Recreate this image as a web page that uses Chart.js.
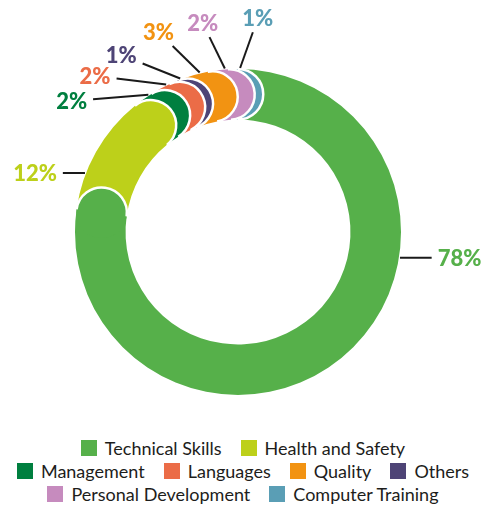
<!DOCTYPE html>
<html>
<head>
<meta charset="utf-8">
<script src="https://cdn.jsdelivr.net/npm/chart.js@4.4.1/dist/chart.umd.min.js"></script>
<style>
  body { margin: 0; background: #fff; font-family: Lato, sans-serif; }
  #wrap { position: relative; width: 486px; height: 437px; }
  #legend { display: flex; flex-wrap: wrap; justify-content: center; width: 460px; margin: 0 auto; column-gap: 19px; }
  .item { display: flex; align-items: center; height: 22.7px; font-size: 18px; color: #1d1d1b; white-space: nowrap; }
  .box { width: 16px; height: 16px; margin-right: 8px; }
</style>
</head>
<body>
<div id="wrap"><canvas id="trainingChart"></canvas></div>
<div id="legend"></div>
<script>
// ring order, clockwise from 12 o'clock
const categories = ['Technical Skills', 'Health and Safety', 'Management', 'Languages', 'Others', 'Quality', 'Personal Development', 'Computer Training'];
const shares = [78, 12, 2, 2, 1, 3, 2, 1];
const colors = ['#56B04A', '#BDD01A', '#007F3F', '#EB6C47', '#4E4476', '#F29312', '#C68BBE', '#5A9EB5'];
const legendOrder = ['Technical Skills', 'Health and Safety', 'Management', 'Languages', 'Quality', 'Others', 'Personal Development', 'Computer Training'];

// percentage labels: degrees clockwise from 12 o'clock, distance as multiple of the outer radius
const labelAngles = [96.6, 286.2, 308.2, 317.5, 326.6, 338.3, 350.4, 5.3];
const labelDist = [1.368, 1.297, 1.299, 1.298, 1.302, 1.321, 1.30, 1.317];

const LABEL_FONT = '900 22px Lato';

// arc with a round cap sticking out past its end
function segmentPath(ctx, a) {
  const rm = (a.innerRadius + a.outerRadius) / 2;
  const rc = (a.outerRadius - a.innerRadius) / 2;
  const cx = a.x + rm * Math.cos(a.endAngle);
  const cy = a.y + rm * Math.sin(a.endAngle);
  ctx.beginPath();
  ctx.arc(a.x, a.y, a.outerRadius, a.startAngle, a.endAngle);
  ctx.arc(cx, cy, rc, a.endAngle, a.endAngle + Math.PI);
  ctx.arc(a.x, a.y, a.innerRadius, a.endAngle, a.startAngle, true);
  ctx.closePath();
  return { cx, cy, rc };
}

function capOutline(ctx, a, cap) {
  ctx.beginPath();
  ctx.arc(cap.cx, cap.cy, cap.rc, a.endAngle, a.endAngle + Math.PI);
  ctx.strokeStyle = '#fff';
  ctx.lineWidth = 2.5;
  ctx.stroke();
}

function drawSegment(ctx, a, color) {
  const cap = segmentPath(ctx, a);
  ctx.fillStyle = color;
  ctx.fill();
  capOutline(ctx, a, cap);
}

function drawCapOnly(ctx, a, color) {
  const rm = (a.innerRadius + a.outerRadius) / 2;
  const rc = (a.outerRadius - a.innerRadius) / 2;
  const cap = { cx: a.x + rm * Math.cos(a.endAngle), cy: a.y + rm * Math.sin(a.endAngle), rc };
  ctx.beginPath();
  ctx.arc(cap.cx, cap.cy, rc, a.endAngle - Math.PI, a.endAngle + Math.PI);
  ctx.fillStyle = color;
  ctx.fill();
  capOutline(ctx, a, cap);
}

const roundedRing = {
  id: 'roundedRing',
  beforeDatasetsDraw(chart) {
    const ctx = chart.ctx;
    const arcs = chart.getDatasetMeta(0).data.map(el =>
      el.getProps(['x', 'y', 'startAngle', 'endAngle', 'innerRadius', 'outerRadius'], true));
    // first slice underneath, the rest from last to second so every cap overlaps the next slice
    ctx.save();
    drawSegment(ctx, arcs[0], colors[0]);
    for (let i = arcs.length - 1; i > 0; i--) drawSegment(ctx, arcs[i], colors[i]);
    drawCapOnly(ctx, arcs[0], colors[0]);
    ctx.restore();
    return false;
  },
  afterDraw(chart) {
    const ctx = chart.ctx;
    const arcs = chart.getDatasetMeta(0).data.map(el =>
      el.getProps(['x', 'y', 'startAngle', 'endAngle', 'innerRadius', 'outerRadius'], true));
    ctx.save();
    ctx.font = LABEL_FONT;
    arcs.forEach((a, i) => {
      const R = a.outerRadius;
      const ang = (labelAngles[i] - 90) * Math.PI / 180;
      const tx = a.x + labelDist[i] * R * Math.cos(ang);
      const ty = a.y + labelDist[i] * R * Math.sin(ang);
      const text = shares[i] + '%';
      const w = ctx.measureText(text).width;

      // where the leader touches the ring
      let ax, ay;
      if (a.endAngle - a.startAngle > Math.PI / 6) {
        const dy = ty - a.y;
        ax = a.x + Math.sign(tx - a.x) * Math.sqrt((R + 1) * (R + 1) - dy * dy);
        ay = ty;
      } else {
        const m = (a.startAngle + a.endAngle) / 2 + 0.044;
        ax = a.x + (R + 1) * Math.cos(m);
        ay = a.y + (R + 1) * Math.sin(m);
      }
      // stop the leader just short of the text box
      const gap = 6;
      const len = Math.hypot(ax - tx, ay - ty);
      const ux = (ax - tx) / len, uy = (ay - ty) / len;
      const t = Math.min((w / 2 + gap) / Math.max(Math.abs(ux), 1e-6), (8 + gap) / Math.max(Math.abs(uy), 1e-6));
      ctx.beginPath();
      ctx.moveTo(ax, ay);
      ctx.lineTo(tx + ux * t, ty + uy * t);
      ctx.strokeStyle = '#1a1a1a';
      ctx.lineWidth = 2;
      ctx.stroke();

      ctx.fillStyle = colors[i];
      ctx.textAlign = 'center';
      ctx.textBaseline = 'alphabetic';
      ctx.fillText(text, tx, ty + 8);
    });
    ctx.restore();
  }
};

const ctx = document.getElementById('trainingChart').getContext('2d');
const trainingChart = new Chart(ctx, {
  type: 'doughnut',
  data: {
    labels: categories,
    datasets: [{
      data: shares,
      backgroundColor: colors,
      borderWidth: 0
    }]
  },
  options: {
    responsive: true,
    maintainAspectRatio: false,
    animation: false,
    cutout: '69%',
    layout: { padding: { left: 75, right: 85, top: 69, bottom: 42 } },
    plugins: {
      legend: { display: false },
      tooltip: { enabled: false }
    }
  },
  plugins: [roundedRing]
});

// legend underneath
const legend = document.getElementById('legend');
legendOrder.forEach(name => {
  const i = categories.indexOf(name);
  const item = document.createElement('div');
  item.className = 'item';
  item.innerHTML = '<span class="box" style="background:' + colors[i] + '"></span>' + name;
  legend.appendChild(item);
});
</script>
</body>
</html>
